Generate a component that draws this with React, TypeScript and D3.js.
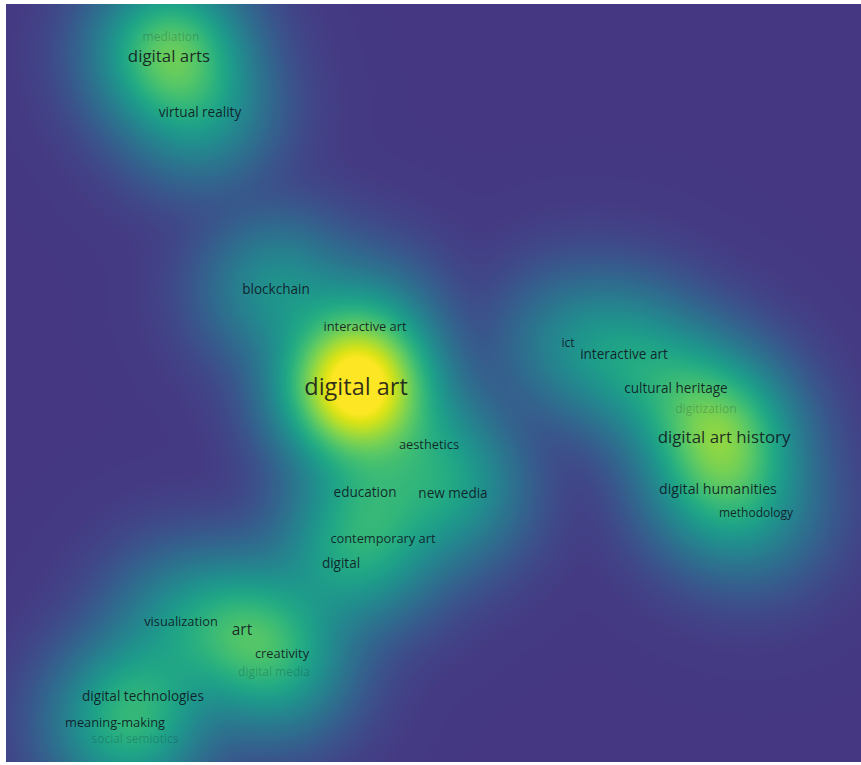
import React, { useMemo } from "react";
import * as d3 from "d3";

// VOSviewer-style density map: keyword labels, map coordinates (0-100) and occurrences
const labels = [
  "mediation", "digital arts", "virtual reality", "blockchain", "interactive art",
  "digital art", "aesthetics", "education", "new media", "contemporary art",
  "digital", "visualization", "art", "creativity", "digital media",
  "digital technologies", "meaning-making", "social semiotics", "ict", "interactive art",
  "cultural heritage", "digitization", "digital art history", "digital humanities", "methodology",
];
const mapX = [
  19.3, 19.06, 22.69, 31.58, 41.99,
  40.94, 49.47, 41.99, 52.28, 44.09,
  39.18, 20.47, 27.6, 32.28, 31.35,
  16.02, 12.75, 15.09, 65.73, 72.28,
  78.36, 81.87, 83.98, 83.27, 87.72,
];
const mapY = [
  4.3, 6.86, 14.25, 37.6, 42.61,
  50.53, 58.18, 64.38, 64.51, 70.58,
  73.75, 81.4, 82.59, 85.75, 88.13,
  91.29, 94.85, 96.97, 44.72, 46.17,
  50.66, 53.43, 57.12, 63.98, 67.15,
];
const occurrences = [
  3, 11, 5, 5, 4,
  30, 4, 5, 5, 4,
  5, 4, 8, 4, 3,
  5, 4, 3, 3, 5,
  5, 3, 11, 6, 3,
];
// labels drawn faded because they overlap others
const fadedLabels = ["mediation", "social semiotics", "digital media", "digitization"];

const W = 861;
const H = 765;
const PX = 6, PY = 4, PW = 855, PH = 758;

export default function App() {
  const x = d3.scaleLinear().domain([0, 100]).range([PX, PX + PW]);
  const y = d3.scaleLinear().domain([0, 100]).range([PY, PY + PH]);
  const font = d3.scalePow().exponent(0.5).domain([3, 30]).range([12, 23.5]);

  const href = useMemo(() => {
    const canvas = document.createElement("canvas");
    canvas.width = PW;
    canvas.height = PH;
    const ctx = canvas.getContext("2d")!;
    const img = ctx.createImageData(PW, PH);
    const sigma = 42;
    const inv = 1 / (2 * sigma * sigma);
    const pts = labels.map((_, i) => [x(mapX[i]) - PX, y(mapY[i]) - PY, occurrences[i]]);
    const norm = 27;
    const lut: number[][] = [];
    for (let k = 0; k <= 1000; k++) {
      const c = d3.rgb(d3.interpolateViridis(0.16 + 0.84 * (k / 1000)));
      lut.push([c.r, c.g, c.b]);
    }
    for (let j = 0; j < PH; j++) {
      for (let i = 0; i < PW; i++) {
        let D = 0;
        for (const p of pts) {
          const dx = i - p[0], dy = j - p[1];
          D += p[2] * Math.exp(-(dx * dx + dy * dy) * inv);
        }
        let t = Math.min(1, D / norm);
        t = Math.pow(t, 0.55);
        const c = lut[Math.round(t * 1000)];
        const o = (j * PW + i) * 4;
        img.data[o] = c[0];
        img.data[o + 1] = c[1];
        img.data[o + 2] = c[2];
        img.data[o + 3] = 255;
      }
    }
    ctx.putImageData(img, 0, 0);
    return canvas.toDataURL();
  }, []);

  return (
    <svg width={W} height={H} style={{ position: "absolute", left: 0, top: 0, background: "#fff" }}>
      <image href={href} x={PX} y={PY} width={PW} height={PH} />
      <g fontFamily="'Open Sans', 'Noto Sans', sans-serif" textAnchor="middle">
        {labels.map((l, i) => (
          <text
            key={i}
            x={x(mapX[i])}
            y={y(mapY[i])}
            dy="0.35em"
            fontSize={font(occurrences[i])}
            fill="#0d0d1a"
            fillOpacity={fadedLabels.includes(l) ? 0.22 : 0.85}
          >
            {l}
          </text>
        ))}
      </g>
    </svg>
  );
}
